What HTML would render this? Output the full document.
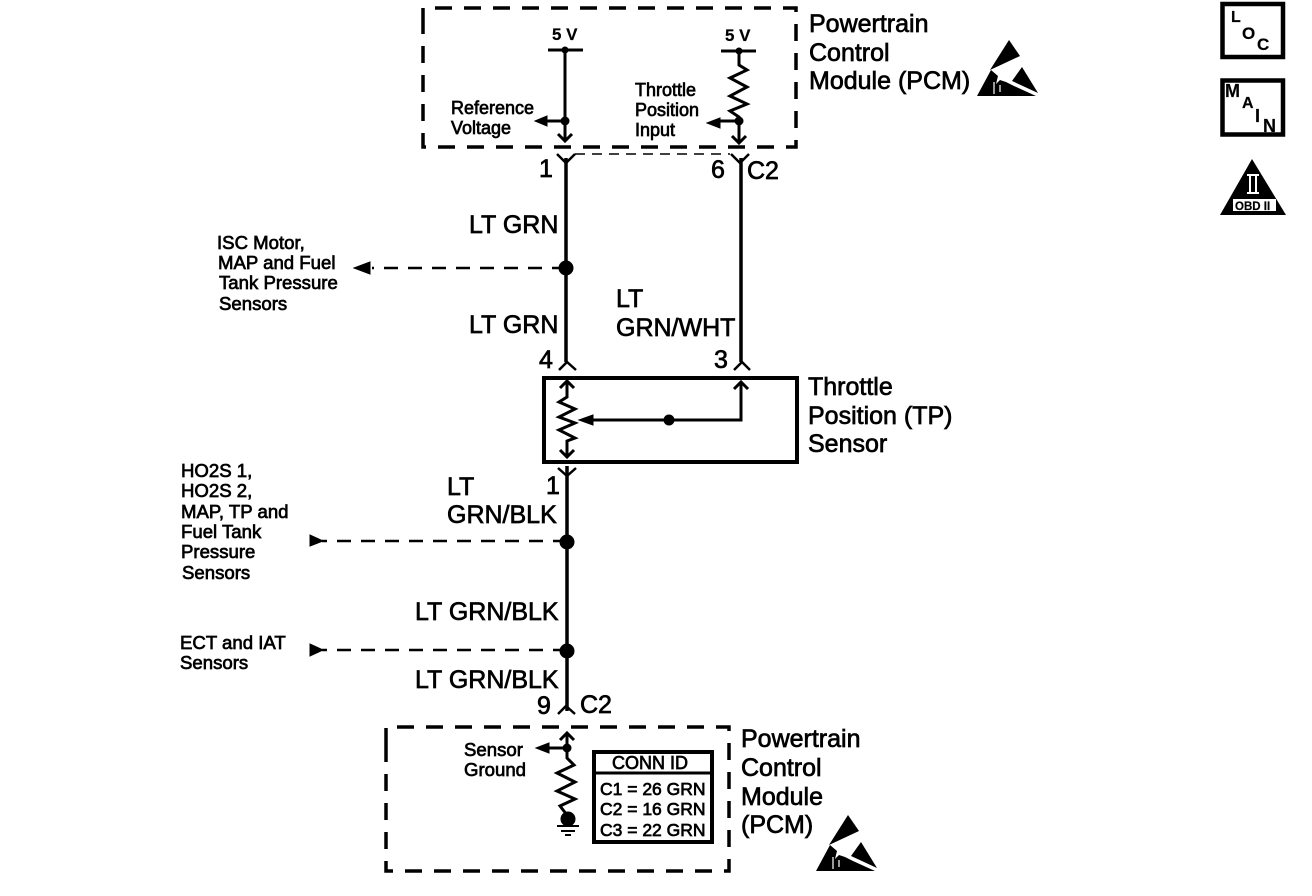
<!DOCTYPE html>
<html><head><meta charset="utf-8"><style>
html,body{margin:0;padding:0;background:#fff}
svg{display:block}
text{font-family:"Liberation Sans",sans-serif;fill:#000;stroke:#000;stroke-width:.7}
.b{font-size:25px}.s{font-size:18px}.m{font-size:18.600px}
.l{fill:none;stroke:#000;stroke-width:3}
.f{fill:#000;stroke:#000;stroke-width:1}
.d{fill:none;stroke:#000;stroke-width:3.5;stroke-dasharray:17 12}
.dd{fill:none;stroke:#000;stroke-width:2.500;stroke-dasharray:14 10}
</style></head><body>
<svg width="1312" height="896" viewBox="0 0 1312 896" xmlns="http://www.w3.org/2000/svg">
<defs>
<g id="esd"><polygon points="33,0 44,16 14,30" fill="#000"/><polygon points="1,56 15,30 22,36 20,44 24,40 30,42 38,46 60,56" fill="#000"/><polygon points="36,41 46,27 62,53" fill="#000"/><path d="M18 42V54M24 45V52" stroke="#fff" stroke-width="1.200"/></g>
</defs>
<!-- top PCM box -->
<path class="d" d="M423 25V8H796V147H423V25"/>
<text x="552" y="40" style="font-size:17px;font-weight:bold;stroke-width:.2">5 V</text>
<text x="725" y="41" style="font-size:17px;font-weight:bold;stroke-width:.2">5 V</text>
<path class="l" d="M548 50H583M721 51H756"/>
<circle class="f" cx="565" cy="50" r="3"/><circle class="f" cx="739" cy="51" r="3"/>
<path class="l" d="M565 50V141M558 134L565 141L572 134"/>
<path class="l" d="M739 51V65L747 70L730 78L747 87L730 96L747 104L730 111L739 117V143M732 136L739 143L746 136"/>
<circle class="f" cx="565" cy="121" r="4"/><circle class="f" cx="739" cy="121" r="4"/>
<path class="l" d="M565 121H545M739 121H720"/>
<polygon class="f" points="535,121 547,116 547,126"/><polygon class="f" points="707,123 720,118 720,128"/>
<text class="s" x="451" y="114">Reference</text><text class="s" x="451" y="134">Voltage</text>
<text class="s" x="635" y="96">Throttle</text><text class="s" x="635" y="116">Position</text><text class="s" x="635" y="136">Input</text>
<text class="b" x="809" y="32">Powertrain</text><text class="b" x="809" y="61">Control</text><text class="b" x="809" y="89">Module (PCM)</text>
<use href="#esd" x="976" y="40"/>
<!-- side icons -->
<rect x="1222.500" y="4" width="60.500" height="53" fill="none" stroke="#000" stroke-width="4.500"/>
<text x="1231" y="22" style="font-size:16px;font-weight:bold;stroke-width:.2">L</text><text x="1242" y="39" style="font-size:17px;font-weight:bold;stroke-width:.2">O</text><text x="1257" y="50" style="font-size:17px;font-weight:bold;stroke-width:.2">C</text>
<rect x="1222.500" y="80.500" width="60.500" height="54" fill="none" stroke="#000" stroke-width="4.500"/>
<text x="1225" y="97" style="font-size:18px;font-weight:bold;stroke-width:.2">M</text><text x="1242" y="108" style="font-size:16px;font-weight:bold;stroke-width:.2">A</text><text x="1255" y="122" style="font-size:18px;font-weight:bold;stroke-width:.2">I</text><text x="1263" y="132" style="font-size:18px;font-weight:bold;stroke-width:.2">N</text>
<polygon points="1252,159 1286,215 1220,215" fill="#000"/>
<rect x="1233" y="199" width="43" height="12" fill="#fff"/>
<text x="1235" y="210" style="font-size:11.500px;font-weight:bold;stroke-width:.2">OBD II</text>
<path d="M1247 175H1259M1247 193H1259M1250 175V193M1256 175V193" fill="none" stroke="#fff" stroke-width="2"/>
<!-- wires -->
<path class="dd" style="stroke-width:1.500;stroke-dasharray:10 7" d="M575 154H730"/>
<path class="l" style="stroke-width:3.500" d="M566 158V362M741 158V362M567 466V711"/>
<path class="l" style="stroke-width:2.500" d="M557 154L566 163L575 154M731 154L740 163L749 154M559 370L567 362L576 370M734 370L742 362L750 370M558 468L567 476L576 468M558 714L566 706L575 714"/>
<text class="b" x="539" y="177">1</text><text class="b" x="711" y="178">6</text><text class="b" x="747" y="179">C2</text>
<text class="b" x="469" y="233">LT GRN</text><text class="b" x="469" y="333">LT GRN</text>
<text class="b" x="616" y="307">LT</text><text class="b" x="616" y="336">GRN/WHT</text>
<text class="b" x="539" y="368">4</text><text class="b" x="714" y="368">3</text>
<circle class="f" cx="566" cy="268" r="7"/>
<path class="dd" d="M566 268H372"/><polygon class="f" points="354,268 370,262 370,274"/>
<text class="m" x="217" y="249">ISC Motor,</text><text class="m" x="218" y="269">MAP and Fuel</text><text class="m" x="219" y="289">Tank Pressure</text><text class="m" x="219" y="310">Sensors</text>
<!-- TP sensor -->
<rect x="544" y="378" width="253" height="84" fill="none" stroke="#000" stroke-width="4"/>
<path class="l" d="M567 381V397L559 402L575 409L559 417L575 423L559 430L575 438L567 441V457M560 388L567 381L574 388M560 450L567 457L574 450"/>
<path class="l" d="M592 420H741V382M734 389L741 382L748 389"/>
<polygon class="f" points="579,420 593,415 593,425"/>
<circle class="f" cx="669" cy="420" r="5"/>
<text class="b" x="808" y="395">Throttle</text><text class="b" x="808" y="424">Position (TP)</text><text class="b" x="808" y="452">Sensor</text>
<text class="b" x="447" y="495">LT</text><text class="b" x="447" y="523">GRN/BLK</text><text class="b" x="546" y="494">1</text>
<circle class="f" cx="567" cy="542" r="7"/><circle class="f" cx="567" cy="651" r="7"/>
<path class="dd" d="M567 541H322M567 650H322"/>
<polygon class="f" points="323,541 310,535 310,546"/><polygon class="f" points="323,650 310,644 310,656"/>
<text class="m" x="181" y="477">HO2S 1,</text><text class="m" x="181" y="497">HO2S 2,</text><text class="m" x="181" y="518">MAP, TP and</text><text class="m" x="181" y="538">Fuel Tank</text><text class="m" x="181" y="558">Pressure</text><text class="m" x="182" y="579">Sensors</text>
<text class="m" x="180" y="649">ECT and IAT</text><text class="m" x="180" y="669">Sensors</text>
<text class="b" x="415" y="620">LT GRN/BLK</text><text class="b" x="415" y="688">LT GRN/BLK</text>
<text class="b" x="537" y="714">9</text><text class="b" x="580" y="713">C2</text>
<!-- bottom PCM box -->
<path class="d" d="M386 745V727H729V871H386V745"/>
<path class="l" d="M567 733V758L574 765L557 773L575 782L557 791L575 799L560 806L567 815M560 740L567 733L574 740"/>
<circle class="f" cx="567" cy="748" r="4"/>
<path class="l" d="M567 748H548"/><polygon class="f" points="536,748 549,743 549,753"/>
<circle class="f" cx="568" cy="819" r="7"/>
<path class="l" d="M557 826H579M561 831H575M565 835H571" style="stroke-width:2"/>
<text class="m" x="464" y="756">Sensor</text><text class="m" x="464" y="776">Ground</text>
<rect x="594" y="752" width="118" height="90" fill="none" stroke="#000" stroke-width="4"/>
<path class="l" d="M594 773H712"/>
<text class="s" x="612" y="769">CONN ID</text>
<text x="600" y="795" style="font-size:17.500px">C1 = 26 GRN</text><text x="600" y="815" style="font-size:17.500px">C2 = 16 GRN</text><text x="600" y="836" style="font-size:17.500px">C3 = 22 GRN</text>
<text class="b" x="741" y="747">Powertrain</text><text class="b" x="741" y="776">Control</text><text class="b" x="741" y="805">Module</text><text class="b" x="741" y="833">(PCM)</text>
<use href="#esd" x="815" y="815"/>
</svg>
</body></html>
